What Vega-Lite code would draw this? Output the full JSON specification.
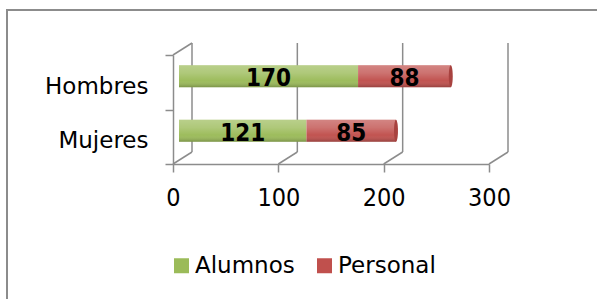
{
  "$schema": "https://vega.github.io/schema/vega-lite/v6.json",
  "autosize": {"type": "none"},
  "padding": {"left": 7, "top": 10, "right": 0, "bottom": 0},
  "width": 600,
  "height": 300,
  "background": "white",
  "config": {
    "view": {"stroke": "#8c8c8c", "strokeWidth": 2},
    "font": "DejaVu Sans"
  },
  "datasets": {
    "bars": [
      {"cat": "Hombres", "serie": "Alumnos", "v": 170},
      {"cat": "Hombres", "serie": "Personal", "v": 88},
      {"cat": "Mujeres", "serie": "Alumnos", "v": 121},
      {"cat": "Mujeres", "serie": "Personal", "v": 85}
    ],
    "ticks": [{"t": 0}, {"t": 100}, {"t": 200}, {"t": 300}]
  },
  "layer": [
    {
      "data": {"name": "ticks"},
      "mark": {"type": "rule", "stroke": "#8c8c8c", "strokeWidth": 1.5, "xOffset": 19, "yOffset": -39.25, "y2Offset": 15.25},
      "encoding": {
        "x": {"field": "t", "type": "quantitative", "scale": {"domain": [0, 300], "range": [166, 482], "nice": false}, "axis": {
          "orient": "bottom", "offset": -146, "values": [0, 100, 200, 300], "grid": false,
          "labelFlush": false, "labelOverlap": false,
          "domainColor": "#8c8c8c", "domainWidth": 1.5, "tickColor": "#8c8c8c", "tickWidth": 1.5, "tickSize": 8,
          "labelFont": "DejaVu Sans Condensed", "labelFontSize": 25, "labelColor": "#000", "labelPadding": 13, "title": null
        }},
        "y": {"datum": "Hombres", "type": "nominal", "scale": {"domain": ["Hombres", "Mujeres"], "range": [45, 154], "paddingInner": 0, "paddingOuter": 0}, "axis": {
          "orient": "left", "offset": -166, "tickBand": "extent", "grid": false,
          "domainColor": "#8c8c8c", "domainWidth": 1.5, "tickColor": "#8c8c8c", "tickWidth": 1.5, "tickSize": 8,
          "labelFontSize": 23, "labelColor": "#000", "labelPadding": 17, "labelOffset": 4, "title": null
        }},
        "y2": {"datum": "Mujeres"}
      }
    },
    {
      "data": {"name": "ticks"},
      "mark": {"type": "rule", "stroke": "#8c8c8c", "strokeWidth": 1.5, "x2Offset": 19, "yOffset": 27.25, "y2Offset": 15.25},
      "encoding": {
        "x": {"field": "t", "type": "quantitative"},
        "x2": {"field": "t"},
        "y": {"datum": "Mujeres", "type": "nominal"},
        "y2": {"datum": "Mujeres"}
      }
    },
    {
      "data": {"name": "ticks"},
      "transform": [{"filter": "datum.t == 0"}],
      "mark": {"type": "rule", "stroke": "#8c8c8c", "strokeWidth": 1.5, "x2Offset": 19, "yOffset": -27.25, "y2Offset": -39.25},
      "encoding": {
        "x": {"field": "t", "type": "quantitative"},
        "x2": {"field": "t"},
        "y": {"datum": "Hombres", "type": "nominal"},
        "y2": {"datum": "Hombres"}
      }
    },
    {
      "data": {"name": "bars"},
      "transform": [
        {"stack": "v", "groupby": ["cat"], "as": ["x0", "x1"], "sort": [{"field": "serie", "order": "ascending"}]}
      ],
      "mark": {"type": "bar", "height": 22, "yOffset": -6, "xOffset": 6, "x2Offset": 6},
      "encoding": {
        "x": {"field": "x0", "type": "quantitative"},
        "x2": {"field": "x1"},
        "y": {"field": "cat", "type": "nominal"},
        "color": {"field": "serie", "type": "nominal",
          "scale": {"domain": ["Alumnos", "Personal"], "range": ["#9bbb59", "#c0504d"]},
          "legend": {"orient": "none", "legendX": 163, "legendY": 244, "direction": "horizontal", "title": null,
            "symbolType": "square", "symbolSize": 225, "symbolStrokeWidth": 0, "symbolOpacity": 1,
            "labelFontSize": 23, "labelColor": "#000", "labelOffset": 2, "columnPadding": 18}
        }
      }
    },
    {
      "data": {"name": "bars"},
      "transform": [
        {"stack": "v", "groupby": ["cat"], "as": ["x0", "x1"], "sort": [{"field": "serie", "order": "ascending"}]}
      ],
      "mark": {"type": "bar", "height": 22, "yOffset": -6, "xOffset": 6, "x2Offset": 6,
        "fill": {"gradient": "linear", "x1": 0, "y1": 0, "x2": 0, "y2": 1, "stops": [
          {"offset": 0, "color": "rgba(255,255,255,0.30)"},
          {"offset": 0.35, "color": "rgba(255,255,255,0.20)"},
          {"offset": 0.7, "color": "rgba(255,255,255,0.02)"},
          {"offset": 1, "color": "rgba(0,0,0,0.22)"}
        ]}},
      "encoding": {
        "x": {"field": "x0", "type": "quantitative"},
        "x2": {"field": "x1"},
        "y": {"field": "cat", "type": "nominal"}
      }
    },
    {
      "data": {"name": "bars"},
      "transform": [
        {"stack": "v", "groupby": ["cat"], "as": ["x0", "x1"], "sort": [{"field": "serie", "order": "ascending"}]},
        {"filter": "datum.serie == 'Personal'"}
      ],
      "mark": {"type": "point", "filled": true, "shape": "M0,-1 A0.18,1 0 1,1 0,1 A0.18,1 0 1,1 0,-1 Z", "size": 484, "fill": "#a8423f", "opacity": 1, "xOffset": 6, "yOffset": -6},
      "encoding": {
        "x": {"field": "x1", "type": "quantitative"},
        "y": {"field": "cat", "type": "nominal"}
      }
    },
    {
      "data": {"name": "bars"},
      "transform": [
        {"stack": "v", "groupby": ["cat"], "as": ["x0", "x1"], "sort": [{"field": "serie", "order": "ascending"}]},
        {"calculate": "(datum.x0 + datum.x1) / 2", "as": "mid"}
      ],
      "mark": {"type": "text", "font": "DejaVu Sans Condensed", "fontWeight": "bold", "fontSize": 24, "color": "#000", "xOffset": 6, "yOffset": -3},
      "encoding": {
        "x": {"field": "mid", "type": "quantitative"},
        "y": {"field": "cat", "type": "nominal"},
        "text": {"field": "v", "type": "quantitative"}
      }
    }
  ]
}
